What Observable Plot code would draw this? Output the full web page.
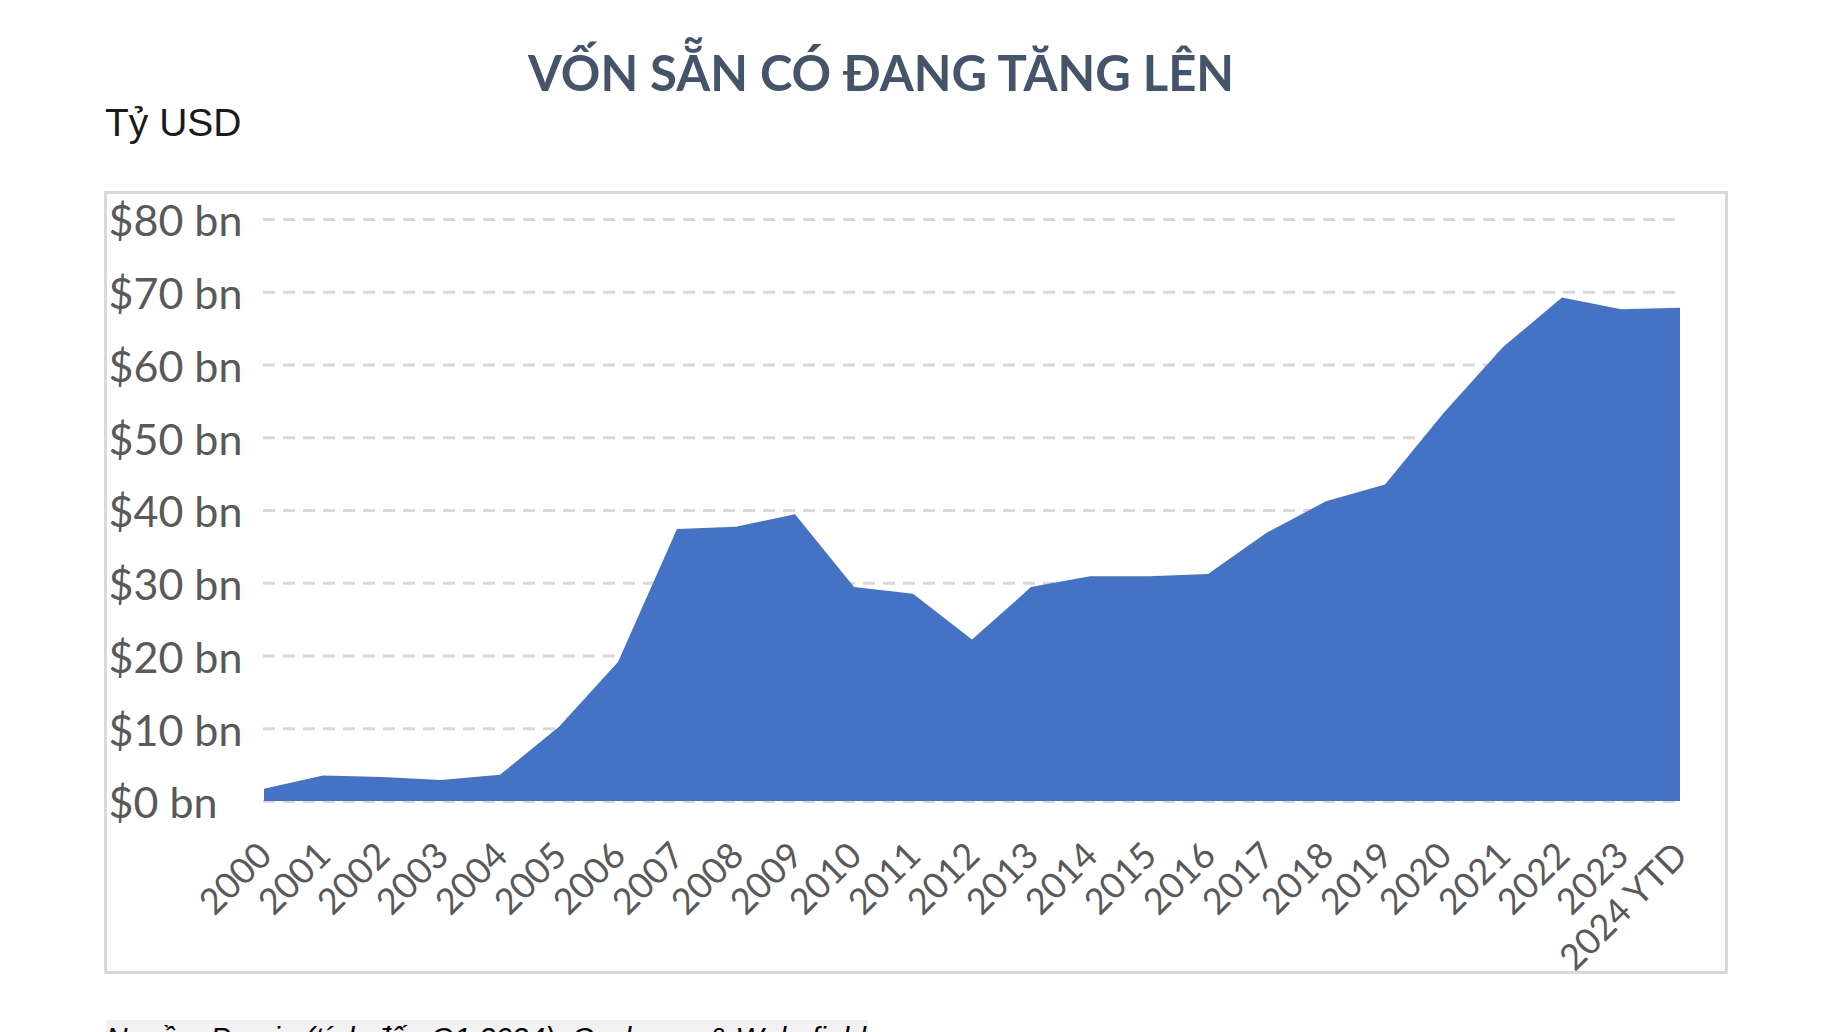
<!DOCTYPE html>
<html><head><meta charset="utf-8">
<script src="https://cdn.jsdelivr.net/npm/d3@7"></script>
<script src="https://cdn.jsdelivr.net/npm/@observablehq/plot@0.6"></script>
<style>
html,body{margin:0;padding:0;background:#fff;overflow:hidden;width:1828px;height:1032px;position:relative}
#title{position:absolute;left:0;width:1762px;top:48px;text-align:center;font-family:Lato;font-weight:bold;font-size:49px;line-height:49px;color:#44546a;white-space:nowrap}
#unit{position:absolute;left:105px;top:103px;font-family:"Liberation Sans";font-size:39px;line-height:39px;color:#1a1a1a}
#frame{position:absolute;left:104px;top:191px;width:1624px;height:783px;box-sizing:border-box;border:3px solid #d9d9d9;pointer-events:none}
#chart{position:absolute;left:105px;top:192px}
#caption{position:absolute;left:106px;top:1020px;width:762px;background:#f2f2f2;font-family:"Liberation Sans";font-style:italic;font-size:29.8px;line-height:35px;color:#000;white-space:nowrap}
</style></head><body>
<div id="title">VỐN SẴN CÓ ĐANG TĂNG LÊN</div>
<div id="unit">Tỷ USD</div>
<div id="chart"></div>
<div id="frame"></div>
<div id="caption">Nguồn: Preqin (tính đến Q1 2024), Cushman &amp; Wakefield</div>
<script>
const years = ["2000","2001","2002","2003","2004","2005","2006","2007","2008","2009","2010","2011","2012","2013","2014","2015","2016","2017","2018","2019","2020","2021","2022","2023","2024 YTD"];
const values = [1.7,3.5,3.3,2.9,3.6,10.2,19.1,37.4,37.7,39.4,29.4,28.5,22.2,29.4,30.9,30.9,31.2,36.9,41.2,43.5,53.4,62.4,69.2,67.6,67.8];
const yTicks = [0,10,20,30,40,50,60,70,80];

const data = years.map((y, i) => ({year: y, value: values[i]}));

const chart = Plot.plot({
  width: 1622, height: 781,
  marginLeft: 158, marginRight: 47, marginTop: 27, marginBottom: 172,
  style: {background: "transparent", fontFamily: "Lato", color: "#595959", overflow: "visible"},
  x: {type: "point", domain: years, padding: 0},
  y: {domain: [0, 80]},
  marks: [
    Plot.gridY(yTicks, {stroke: "#d9d9d9", strokeOpacity: 1, strokeWidth: 3, strokeDasharray: "12,8"}),
    Plot.areaY(data, {x: "year", y: "value", fill: "#4472c4"}),
    Plot.axisY(yTicks, {tickSize: 0, tickPadding: 155, textAnchor: "start", dy: 3, tickFormat: d => `$${d} bn`, fontSize: 43, fill: "#595959", label: null}),
    Plot.axisX(years, {tickSize: 0, tickRotate: -45, tickPadding: 48, dx: 1, fontSize: 36, fill: "#595959", label: null})
  ]
});
document.getElementById("chart").appendChild(chart);
</script>
</body></html>
